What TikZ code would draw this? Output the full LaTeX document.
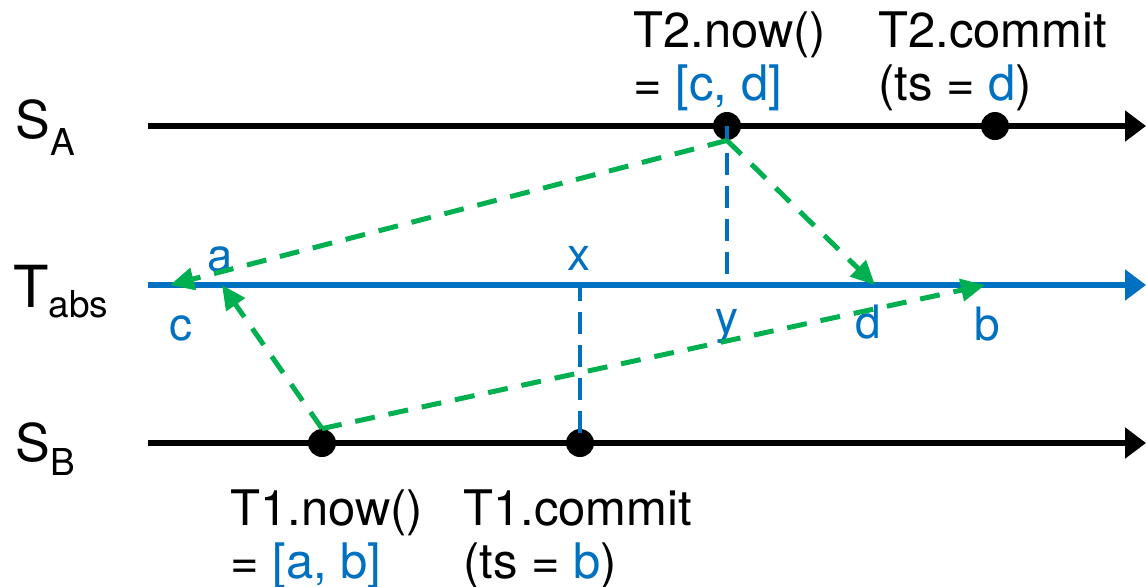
\documentclass[tikz,border=0pt]{standalone}
\usepackage{fontspec}
\setmainfont{TeX Gyre Heros}
\usetikzlibrary{arrows.meta}
\definecolor{cAzul}{HTML}{0070C0}
\definecolor{cVerd}{HTML}{00B050}
\begin{document}
\begin{tikzpicture}[
  x=0.5pt,y=-0.5pt,font=\fontsize{24.5}{26.5}\selectfont,
  eixo/.style={line width=3pt,-{Triangle[length=10.5pt,width=15pt]}},
  ponto/.style={circle,fill=black,inner sep=0pt,minimum size=14pt},
  seta/.style={draw=cVerd,line width=2.5pt,dash pattern=on 10pt off 7pt,
               -{Triangle[length=12pt,width=11pt]}},
  proj/.style={draw=cAzul,line width=2.1pt,dash pattern=on 11pt off 5.5pt,dash phase=3pt},
  lbl/.style={inner sep=0pt,text=cAzul,font=\fontsize{23}{23}\selectfont},
  txt/.style={inner sep=0pt,align=left,anchor=base west},
  eix/.style={inner sep=0pt,anchor=base west}
]
\useasboundingbox (0,0) rectangle (1146,586);

% ---- eixos
\coordinate (a0) at (148,126);  \coordinate (a1) at (1146,126);
\coordinate (t0) at (148,285);  \coordinate (t1) at (1146,285);
\coordinate (b0) at (148,443);  \coordinate (b1) at (1146,443);
\draw[eixo] (a0) -- (a1);
\draw[eixo,cAzul] (t0) -- (t1);
\draw[eixo] (b0) -- (b1);

\node[eix,font=\fontsize{26}{26}\selectfont] (lA) at (15,138)
  {S\raisebox{-8.5pt}{\fontsize{18.5}{18.5}\selectfont A}};
\node[eix,font=\fontsize{29}{29}\selectfont] (lT) at (13,307)
  {T\raisebox{-5pt}{\fontsize{18.5}{18.5}\selectfont abs}};
\node[eix,font=\fontsize{26}{26}\selectfont] (lB) at (15,461)
  {S\raisebox{-7pt}{\fontsize{18.5}{18.5}\selectfont B}};

% ---- pontos em T_abs
\coordinate (tc) at (170,285);
\coordinate (ta) at (222,285);
\coordinate (tx) at (580,285);
\coordinate (ty) at (727,285);
\coordinate (td) at (875,285);
\coordinate (tb) at (985,285);

\node[lbl] (la) at (220,259) {a};
\node[lbl] (lc) at (181,328) {c};
\node[lbl] (lx) at (579,258) {x};
\node[lbl] (ly) at (727,326) {y};
\node[lbl] (ld) at (868,322) {d};
\node[lbl] (lb) at (987,324) {b};

% ---- eventos
\node[ponto] (pA1) at (727,126) {};
\node[ponto] (pA2) at (995,126) {};
\node[ponto] (pB1) at (322,443) {};
\node[ponto] (pB2) at (580,443) {};

% (ancora = linha de base da ultima linha)
\node[txt] (n2) at (633,100) {T2.now()\\= \textcolor{cAzul}{[c, d]}};
\node[txt] (c2) at (878,100) {T2.commit\\(ts = \textcolor{cAzul}{d})};
\node[txt] (n1) at (230,578) {T1.now()\\= \textcolor{cAzul}{[a, b]}};
\node[txt] (c1) at (463,578) {T1.commit\\(ts = \textcolor{cAzul}{b})};

% ---- projecoes
\draw[proj] (pA1.center) -- (ty);
\draw[proj] (tx) -- (pB2.center);

% ---- incerteza
\draw[seta] (pA1.south) -- (tc);
\draw[seta] (pA1.south) -- (td);
\draw[seta] (pB1.north) -- (ta);
\draw[seta] (pB1.north) -- (tb);
\end{tikzpicture}
\end{document}
